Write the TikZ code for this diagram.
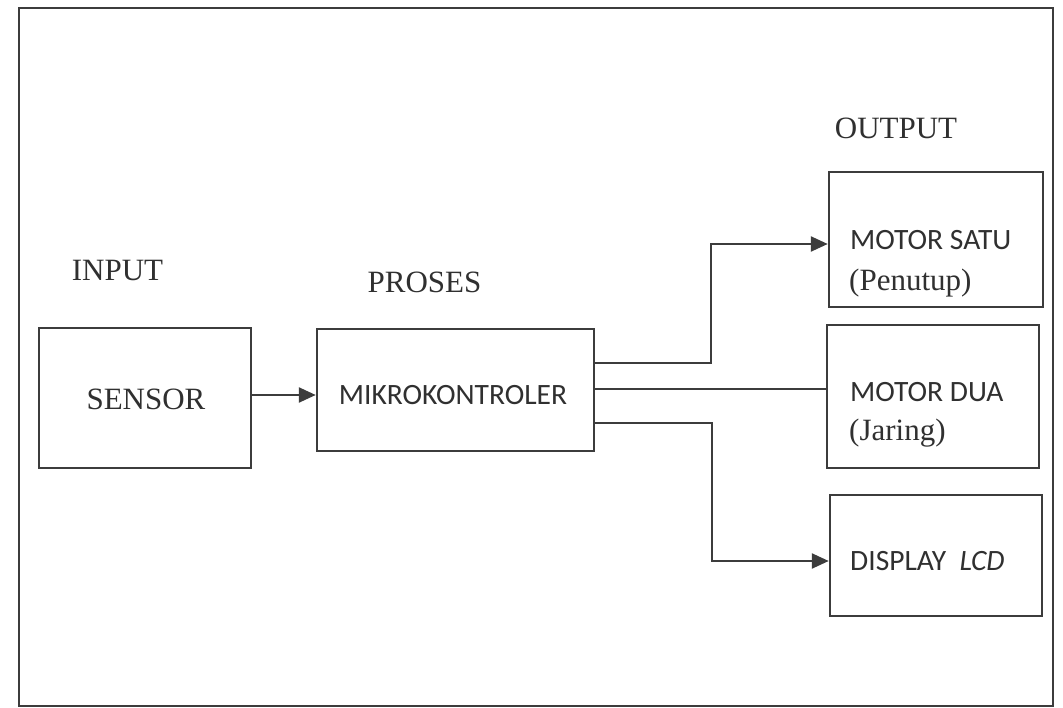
\documentclass[tikz,border=0pt]{standalone}
\usepackage{fontspec}
\setmainfont{Liberation Serif}
\newfontfamily\calib{Carlito}
\usetikzlibrary{arrows.meta}
\definecolor{ink}{HTML}{3C3C3C}
\definecolor{txt}{HTML}{303030}
\tikzset{
  blk/.style={draw=ink, line width=2.5pt, minimum width=#1, inner sep=0pt},
  conn/.style={draw=ink, line width=2.5pt},
  arr/.style={conn, -{Triangle[length=17pt,width=15pt]}},
  serif/.style={font=\fontsize{31}{33}\selectfont, text=txt, inner sep=0pt},
  sans/.style={font=\calib\fontsize{29.5}{31}\selectfont, text=txt, inner sep=0pt},
}
\begin{document}
\begin{tikzpicture}[x=1pt,y=-1pt]
\useasboundingbox (0,0) rectangle (1063,708);
\fill[white] (0,0) rectangle (1063,708);
\draw[ink, line width=2.6pt] (19,8) rectangle (1053,706);
% boxes
\node[blk=212pt, minimum height=140pt] (sensor) at (145,398) {};
\node[blk=277pt, minimum height=122pt] (mikro) at (455.5,390) {};
\node[blk=214pt, minimum height=135pt] (m1) at (936,239.5) {};
\node[blk=212pt, minimum height=143pt] (m2) at (933,396.5) {};
\node[blk=212pt, minimum height=121pt] (disp) at (936,555.5) {};
% headings
\node[serif] (hin) at (117.5,271) {INPUT};
\node[serif] (hpr) at (424.5,282) {PROSES};
\node[serif] (hout) at (896,128) {OUTPUT};
% labels
\node[serif] (tsen) at (146,399) {SENSOR};
\node[sans] (tmik) at (453,395) {MIKROKONTROLER};
\node[sans, anchor=west] (tm1) at (850,240) {MOTOR SATU};
\node[serif, anchor=west] (tm1b) at (849,283) {(Penutup)};
\node[sans, anchor=west] (tm2) at (850,392) {MOTOR DUA};
\node[serif, anchor=west] (tm2b) at (849,433) {(Jaring)};
\node[sans, anchor=west] (tdisp) at (850,561) {DISPLAY\ \ \textit{LCD}};
% connectors
\coordinate (j1) at (711,363);
\coordinate (j3) at (712,423);
\draw[arr] (sensor.east |- 0,395) -- (mikro.west |- 0,395);
\draw[arr] (mikro.east |- j1) -- (j1) |- (m1.west |- 0,244);
\draw[conn] (mikro.east |- 0,389) -- (m2.west |- 0,389);
\draw[arr] (mikro.east |- j3) -- (j3) |- (disp.west |- 0,561);
\end{tikzpicture}
\end{document}
